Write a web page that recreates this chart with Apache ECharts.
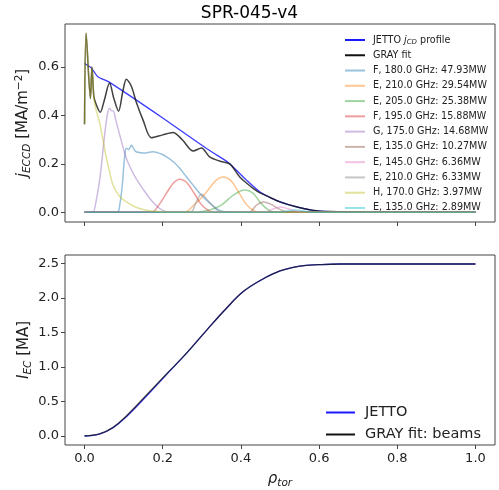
<!DOCTYPE html>
<html><head><meta charset="utf-8">
<script src="https://cdn.jsdelivr.net/npm/echarts@6/dist/echarts.min.js"></script>
<style>html,body{margin:0;padding:0;background:#fff}#c{width:499px;height:490px}</style>
</head><body><div id="c"></div>
<script>
// ---- data ----
const title = 'SPR-045-v4';
const xTicks = [0, 0.2, 0.4, 0.6, 0.8, 1.0];
const yTopTicks = [0, 0.2, 0.4, 0.6];
const yBotTicks = [0, 0.5, 1.0, 1.5, 2.0, 2.5];

const jettoX = [0, 0.017, 0.034, 0.064, 0.2, 0.312, 0.367, 0.372, 0.415, 0.449, 0.5, 0.551, 0.585, 0.628, 0.7, 1.0];
const jettoY = [0.615, 0.597, 0.56, 0.537, 0.39, 0.264, 0.207, 0.2, 0.132, 0.084, 0.043, 0.019, 0.008, 0.003, 0, 0];

const grayX = [0, 0.004, 0.015, 0.019, 0.024, 0.031, 0.04, 0.05, 0.064, 0.075, 0.087, 0.098, 0.107, 0.12, 0.132, 0.15, 0.171, 0.2, 0.226, 0.25, 0.278, 0.299, 0.32, 0.345, 0.372, 0.397, 0.415, 0.432, 0.449, 0.466, 0.5, 0.543, 0.585, 0.628, 0.7, 1.0];
const grayY = [0.364, 0.74, 0.47, 0.60, 0.477, 0.44, 0.413, 0.46, 0.534, 0.47, 0.418, 0.50, 0.55, 0.52, 0.457, 0.38, 0.308, 0.32, 0.33, 0.30, 0.253, 0.266, 0.229, 0.212, 0.199, 0.146, 0.12, 0.098, 0.08, 0.068, 0.043, 0.022, 0.008, 0.003, 0, 0];

const beamNames = ['F, 180.0 GHz: 47.93MW', 'E, 210.0 GHz: 29.54MW', 'E, 205.0 GHz: 25.38MW', 'F, 195.0 GHz: 15.88MW', 'G, 175.0 GHz: 14.68MW', 'E, 135.0 GHz: 10.27MW', 'E, 145.0 GHz: 6.36MW', 'E, 210.0 GHz: 6.33MW', 'H, 170.0 GHz: 3.97MW', 'E, 135.0 GHz: 2.89MW'];

const f180X = [0, 0.083, 0.09, 0.097, 0.102, 0.107, 0.113, 0.12, 0.126, 0.132, 0.15, 0.175, 0.195, 0.21, 0.23, 0.244, 0.26, 0.278, 0.295, 0.312, 0.33, 0.346, 0.37, 1.0];
const f180Y = [0, 0, 0.03, 0.12, 0.22, 0.265, 0.26, 0.277, 0.262, 0.25, 0.245, 0.25, 0.242, 0.229, 0.205, 0.181, 0.148, 0.112, 0.078, 0.05, 0.025, 0.008, 0, 0];
const e210aX = [0, 0.255, 0.28, 0.31, 0.335, 0.355, 0.375, 0.395, 0.415, 0.435, 0.45, 1.0];
const e210aY = [0, 0, 0.03, 0.08, 0.13, 0.146, 0.13, 0.08, 0.03, 0.005, 0, 0];
const e205X = [0, 0.28, 0.32, 0.35, 0.38, 0.41, 0.43, 0.45, 0.47, 0.49, 1.0];
const e205Y = [0, 0, 0.01, 0.03, 0.07, 0.092, 0.08, 0.04, 0.01, 0, 0];
const f195X = [0, 0.171, 0.19, 0.21, 0.228, 0.244, 0.26, 0.28, 0.3, 0.32, 0.34, 1.0];
const f195Y = [0, 0, 0.03, 0.08, 0.122, 0.137, 0.125, 0.08, 0.03, 0.005, 0, 0];
const g175X = [0, 0.02, 0.03, 0.04, 0.05, 0.058, 0.064, 0.069, 0.073, 0.08, 0.09, 0.1, 0.107, 0.12, 0.132, 0.15, 0.167, 0.185, 0.2, 0.22, 1.0];
const g175Y = [0, 0, 0.05, 0.15, 0.3, 0.40, 0.43, 0.42, 0.42, 0.38, 0.32, 0.26, 0.222, 0.175, 0.139, 0.095, 0.057, 0.025, 0.008, 0, 0];
const e135aX = [0, 0.42, 0.44, 0.457, 0.475, 0.5, 0.525, 1.0];
const e135aY = [0, 0, 0.03, 0.043, 0.035, 0.012, 0, 0];
const e145X = [0, 0.46, 0.48, 0.5, 0.52, 0.545, 0.56, 1.0];
const e145Y = [0, 0, 0.012, 0.022, 0.015, 0.003, 0, 0];
const e210bX = [0, 0.27, 0.285, 0.299, 0.315, 0.335, 0.35, 1.0];
const e210bY = [0, 0, 0.04, 0.075, 0.05, 0.015, 0, 0];
const h170X = [0, 0.004, 0.015, 0.019, 0.024, 0.03, 0.038, 0.047, 0.056, 0.065, 0.073, 0.09, 0.107, 0.13, 0.15, 0.18, 0.22, 1.0];
const h170Y = [0.364, 0.74, 0.47, 0.60, 0.47, 0.42, 0.374, 0.30, 0.224, 0.16, 0.112, 0.065, 0.043, 0.022, 0.012, 0.004, 0, 0];
const e135bX = [0, 0.5, 0.52, 0.54, 0.56, 0.58, 1.0];
const e135bY = [0, 0, 0.006, 0.01, 0.005, 0, 0];

const iecX = [0, 0.038, 0.073, 0.107, 0.158, 0.209, 0.261, 0.312, 0.363, 0.406, 0.449, 0.5, 0.551, 0.6, 0.654, 0.75, 1.0];
const iecJetto = [0, 0.028, 0.12, 0.28, 0.575, 0.885, 1.2, 1.53, 1.85, 2.09, 2.25, 2.39, 2.46, 2.48, 2.49, 2.49, 2.49];
const iecGray = [0, 0.03, 0.125, 0.29, 0.59, 0.895, 1.2, 1.53, 1.85, 2.09, 2.25, 2.39, 2.46, 2.48, 2.49, 2.49, 2.49];

// ---- build ----
const zip = (xs, ys) => xs.map((x, i) => [x, ys[i]]);
const beamX = [f180X, e210aX, e205X, f195X, g175X, e135aX, e145X, e210bX, h170X, e135bX];
const beamY = [f180Y, e210aY, e205Y, f195Y, g175Y, e135aY, e145Y, e210bY, h170Y, e135bY];
const tab10 = ['#1f77b4', '#ff7f0e', '#2ca02c', '#d62728', '#9467bd', '#8c564b', '#e377c2', '#7f7f7f', '#bcbd22', '#17becf'];

const fam = 'DejaVu Sans';
const axisCol = '#444';
const fmt = v => v.toFixed(1);

function xAx(idx, showLabel) {
  return {
    type: 'value', gridIndex: idx, min: -0.05, max: 1.05,
    axisLine: { show: false, onZero: false },
    axisTick: { show: true, length: 4, customValues: xTicks, lineStyle: { color: axisCol } },
    axisLabel: { show: showLabel, customValues: xTicks, formatter: fmt, fontFamily: fam, fontSize: 13, color: '#222', margin: 7 },
    splitLine: { show: false },
    name: showLabel ? '{it|ρ}{sub|tor}' : '', nameLocation: 'middle', nameGap: 25, nameMoveOverlap: false,
    nameTextStyle: { fontFamily: fam, color: '#222', rich: {
      it: { fontFamily: fam, fontStyle: 'italic', fontSize: 15, color: '#222' },
      sub: { fontFamily: fam, fontStyle: 'italic', fontSize: 10.5, color: '#222', padding: [8, 0, 0, 0] } } }
  };
}
const richY = {
  it: { fontFamily: fam, fontStyle: 'italic', fontSize: 15, color: '#222' },
  sub: { fontFamily: fam, fontStyle: 'italic', fontSize: 10.5, color: '#222', padding: [8, 0, 0, 0] },
  n: { fontFamily: fam, fontSize: 15, color: '#222' },
  sup: { fontFamily: fam, fontSize: 10.5, color: '#222', padding: [0, 0, 8, 0] }
};
function yAx(idx, min, max, ticks, name, gap) {
  return {
    type: 'value', gridIndex: idx, min: min, max: max,
    axisLine: { show: false, onZero: false },
    axisTick: { show: true, length: 4, customValues: ticks, lineStyle: { color: axisCol } },
    axisLabel: { customValues: ticks, formatter: fmt, fontFamily: fam, fontSize: 13, color: '#222', margin: 6 },
    splitLine: { show: false },
    name: name, nameLocation: 'middle', nameGap: gap, nameRotate: 90, nameMoveOverlap: false,
    nameTextStyle: { fontFamily: fam, fontSize: 15, color: '#222', rich: richY }
  };
}

const series = [
  { name: 'JETTO jcd', type: 'line', xAxisIndex: 0, yAxisIndex: 0, data: zip(jettoX, jettoY), symbol: 'none', smooth: 0.2,
    lineStyle: { color: '#1a1aff', width: 1.3, opacity: 0.85 }, itemStyle: { color: '#1a1aff' } },
  { name: 'GRAY fit', type: 'line', xAxisIndex: 0, yAxisIndex: 0, data: zip(grayX, grayY), symbol: 'none', smooth: 0.3,
    lineStyle: { color: '#111', width: 1.5, opacity: 0.8 }, itemStyle: { color: '#111' } }
];
beamNames.forEach((n, i) => {
  series.push({ name: n, type: 'line', xAxisIndex: 0, yAxisIndex: 0, data: zip(beamX[i], beamY[i]), symbol: 'none', smooth: 0.35,
    lineStyle: { color: tab10[i], width: 1.5, opacity: 0.45 }, itemStyle: { color: tab10[i], opacity: 0.45 } });
});
series.push(
  { name: 'JETTO', type: 'line', xAxisIndex: 1, yAxisIndex: 1, data: zip(iecX, iecJetto), symbol: 'none', smooth: 0.4,
    lineStyle: { color: '#1a1aff', width: 1.3, opacity: 0.85 }, itemStyle: { color: '#1a1aff' } },
  { name: 'GRAY fit: beams', type: 'line', xAxisIndex: 1, yAxisIndex: 1, data: zip(iecX, iecGray), symbol: 'none', smooth: 0.4,
    lineStyle: { color: '#111', width: 1.3, opacity: 0.75 }, itemStyle: { color: '#111' } }
);

const chart = echarts.init(document.getElementById('c'), null, { renderer: 'canvas' });
chart.setOption({
  animation: false,
  backgroundColor: '#fff',
  title: { text: title, left: 'center', top: 0, textStyle: { fontFamily: fam, fontSize: 17, fontWeight: 'normal', color: '#000' } },
  grid: [
    { left: 65, top: 24, width: 430, height: 198, show: true, borderColor: axisCol, borderWidth: 1 },
    { left: 65, top: 255, width: 430, height: 197, show: true, borderColor: axisCol, borderWidth: 1 }
  ],
  xAxis: [xAx(0, false), xAx(1, true)],
  yAxis: [
    yAx(0, -0.04, 0.778, yTopTicks, '{it|j}{sub|ECCD}{n| [MA/m}{sup|−2}{n|]}', 32),
    yAx(1, -0.13, 2.62, yBotTicks, '{it|I}{sub|EC}{n| [MA]}', 31)
  ],
  legend: [
    { data: ['JETTO jcd', 'GRAY fit'].concat(beamNames), orient: 'vertical', left: 340, top: 28, itemWidth: 20, itemHeight: 14, itemGap: 1.27,
      icon: 'path://M0,6 L20,6 L20,8 L0,8 Z',
      formatter: n => n === 'JETTO jcd' ? 'JETTO {it|j}{sub|CD} profile' : n,
      textStyle: { fontFamily: fam, fontSize: 9.6, color: '#222', padding: [0, 0, 0, 3], lineHeight: 14, rich: {
        it: { fontFamily: fam, fontStyle: 'italic', fontSize: 9.6, color: '#222' },
        sub: { fontFamily: fam, fontStyle: 'italic', fontSize: 7, color: '#222', padding: [5, 0, 0, 0] } } } },
    { data: ['JETTO', 'GRAY fit: beams'], orient: 'vertical', left: 321, top: 400, itemWidth: 29, itemHeight: 14, itemGap: 7,
      icon: 'path://M0,6 L29,6 L29,8 L0,8 Z',
      textStyle: { fontFamily: fam, fontSize: 14.5, color: '#222', padding: [0, 0, 0, 5] } }
  ],
  series: series
});
</script></body></html>
